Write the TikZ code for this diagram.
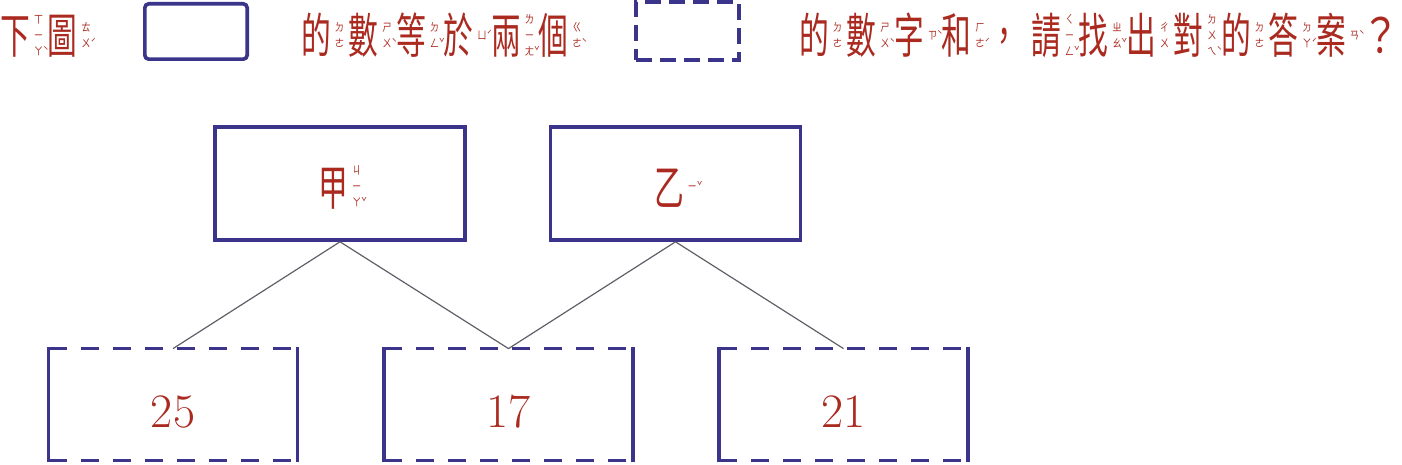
\documentclass[tikz,border=0pt]{standalone}
\usepackage{fontspec}
\newfontfamily\cjk[FakeStretch=0.62]{Noto Sans CJK TC}
\newfontfamily\cjkwide[FakeStretch=0.8]{Noto Sans CJK TC}
\newfontfamily\bpmf[FakeStretch=0.85]{Noto Sans CJK TC}
\usetikzlibrary{positioning}
\definecolor{boxblue}{RGB}{58,52,138}
\definecolor{textred}{RGB}{170,42,32}
\definecolor{linegray}{RGB}{95,95,105}

% character with its zhuyin stacked on the right
\newcommand{\tn}[1]{\rlap{#1}}
\newcommand{\zy}[2]{#1\hspace{1.8pt}\raisebox{7.7pt}{\fontsize{5.5}{8}\bpmf\begin{tabular}{@{}c@{}}#2\end{tabular}}}
\newcommand{\zc}[2]{\makebox[23.75pt][l]{\zy{#1}{#2}}}

\tikzset{every node/.style={text=textred, inner sep=0pt}, % all texts in red
        hanzibox/.style={ % upper boxes
            draw=boxblue, line width=1.8pt,
            minimum width=125pt, minimum height=56.5pt,
            text height=22pt, text depth=0pt,
            font=\cjk\fontsize{24}{24}\selectfont},
        numbox/.style={ % lower boxes, edges drawn afterwards
            minimum width=124pt, minimum height=55.5pt,
            text height=22.5pt, text depth=0pt,
            font=\fontsize{24}{24}\selectfont},
        sideline/.style={draw=boxblue, line width=1.8pt, line cap=rect},
        dashline/.style={draw=boxblue, line width=1.8pt, dash pattern=on 9pt off 7pt},
        keydash/.style={draw=boxblue, line width=1.8pt, dash pattern=on 8pt off 4pt},
        legend/.style={anchor=base west, font=\cjk\fontsize{24}{24}\selectfont},
        link/.style={draw=linegray, line width=0.6pt}
        }

\begin{document}
\begin{tikzpicture}[x=0.5pt, y=-0.5pt]
    \useasboundingbox (0,0) rectangle (1402,465);

    % question line
    \node[legend] (q1) at (0,54) {\zc{下}{ㄒ\\ㄧ\\ㄚ\tn{ˋ}}\zc{圖}{ㄊ\\ㄨ\tn{ˊ}}};
    \node[draw=boxblue, line width=1.8pt, rounded corners=2pt, minimum width=51.2pt, minimum height=27.7pt] (key1) at (196,31.5) {};
    \node[legend] (q2) at (301,54) {\zc{的}{ㄉ\\ㄜ}\zc{數}{ㄕ\\ㄨ\tn{ˋ}}\zc{等}{ㄉ\\ㄥ\tn{ˇ}}\zc{於}{ㄩ\tn{ˊ}}\zc{兩}{ㄌ\\ㄧ\\ㄤ\tn{ˇ}}\zc{個}{ㄍ\\ㄜ\tn{ˋ}}};
    \node[keydash, minimum width=51.7pt, minimum height=29.2pt] (key2) at (687.5,31) {};
    \node[legend] (q3) at (799,54) {\zc{的}{ㄉ\\ㄜ}\zc{數}{ㄕ\\ㄨ\tn{ˋ}}\zc{字}{ㄗ\tn{ˋ}}\zc{和}{ㄏ\\ㄜ\tn{ˊ}}\zc{，}{}};
    \node[legend] (q4) at (1031,54) {\zc{請}{ㄑ\\ㄧ\\ㄥ\tn{ˇ}}\zc{找}{ㄓ\\ㄠ\tn{ˇ}}\zc{出}{ㄔ\\ㄨ}\zc{對}{ㄉ\\ㄨ\\ㄟ\tn{ˋ}}\zc{的}{ㄉ\\ㄜ}\zc{答}{ㄉ\\ㄚ\tn{ˊ}}\zc{案}{ㄢ\tn{ˋ}}};
    \node[anchor=base, font=\cjkwide\fontsize{24}{24}\selectfont] (qm) at (1381,54) {？};

    % the two upper boxes
    \node[hanzibox] (jia) at (340,183.5) {\zy{甲}{ㄐ\\ㄧ\\ㄚ\tn{ˇ}}};
    \node[hanzibox] (yi)  at (675.5,183.5) {\zy{乙}{ㄧ\tn{ˇ}}};

    % the three lower boxes
    \node[numbox] (n25) at (173,404.5) {25};
    \node[numbox] (n17) at (508.5,404.5) {17};
    \node[numbox] (n21) at (843.5,404.5) {21};
    \foreach \n in {n25,n17,n21} {
        \draw[sideline] (\n.north west) -- (\n.south west) (\n.north east) -- (\n.south east);
        \draw[dashline] (\n.north west) -- (\n.north east) (\n.south west) -- (\n.south east);
    }

    \draw[link]
        (jia.south) -- (n25.north)
        (jia.south) -- (n17.north)
        (yi.south)  -- (n17.north)
        (yi.south)  -- (n21.north);
\end{tikzpicture}
\end{document}
